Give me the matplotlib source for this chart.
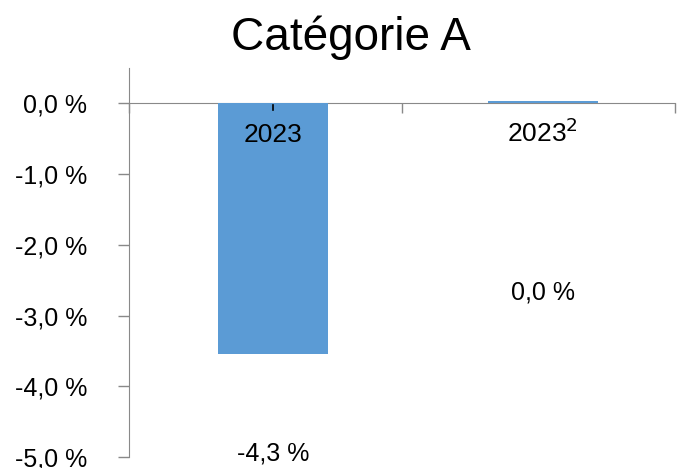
import matplotlib.pyplot as plt

plt.rcParams['font.family'] = ['Liberation Sans', 'DejaVu Sans']

# Data
categories = ['2023', '2023$^{2}$']
values = [-3.55, 0.03]
value_labels = ['-4,3 %', '0,0 %']
label_y = [-4.95, -2.68]
yticks = [0, -1, -2, -3, -4, -5]
ytick_labels = ['0,0 %', '-1,0 %', '-2,0 %', '-3,0 %', '-4,0 %', '-5,0 %']

bar_color = '#5B9BD5'
axis_color = '#898989'

fig = plt.figure(figsize=(6.77, 4.68), dpi=100)
ax = fig.add_axes([129/677, 11/468, 546/677, 389/468])

x = list(range(len(categories)))
ax.bar(x, values, width=0.407, color=bar_color, zorder=2)

# small dark mark under the zero line at the first bar
ax.plot([0, 0], [-0.03, -0.1], color='black', lw=1.2, zorder=3)

ax.set_xlim(-0.533, 1.489)
ax.set_ylim(-5.0, 0.5)

ax.set_yticks(yticks)
ax.set_yticklabels(ytick_labels, fontsize=18)
ax.tick_params(axis='y', direction='out', length=8, width=1, color=axis_color, pad=22)

ax.set_xticks([-0.533, 0.478, 1.489])
ax.set_xticklabels([])
ax.tick_params(axis='x', direction='out', length=7, width=1, color=axis_color)

for s in ['top', 'right']:
    ax.spines[s].set_visible(False)
ax.spines['bottom'].set_position(('data', 0))
ax.spines['bottom'].set_color(axis_color)
ax.spines['left'].set_color(axis_color)
ax.spines['bottom'].set_zorder(1)

# category labels near the zero line
cat_y = [-0.45, -0.41]
for i, c in enumerate(categories):
    ax.text(x[i], cat_y[i], c, ha='center', va='center', fontsize=19, zorder=4)

# data labels
for i, lab in enumerate(value_labels):
    ax.text(x[i], label_y[i], lab, ha='center', va='center', fontsize=18, zorder=4)

fig.text(351/677, 1 - 50/468, 'Catégorie A', ha='center', va='baseline', fontsize=33)

fig.savefig('out.png', dpi=100)
